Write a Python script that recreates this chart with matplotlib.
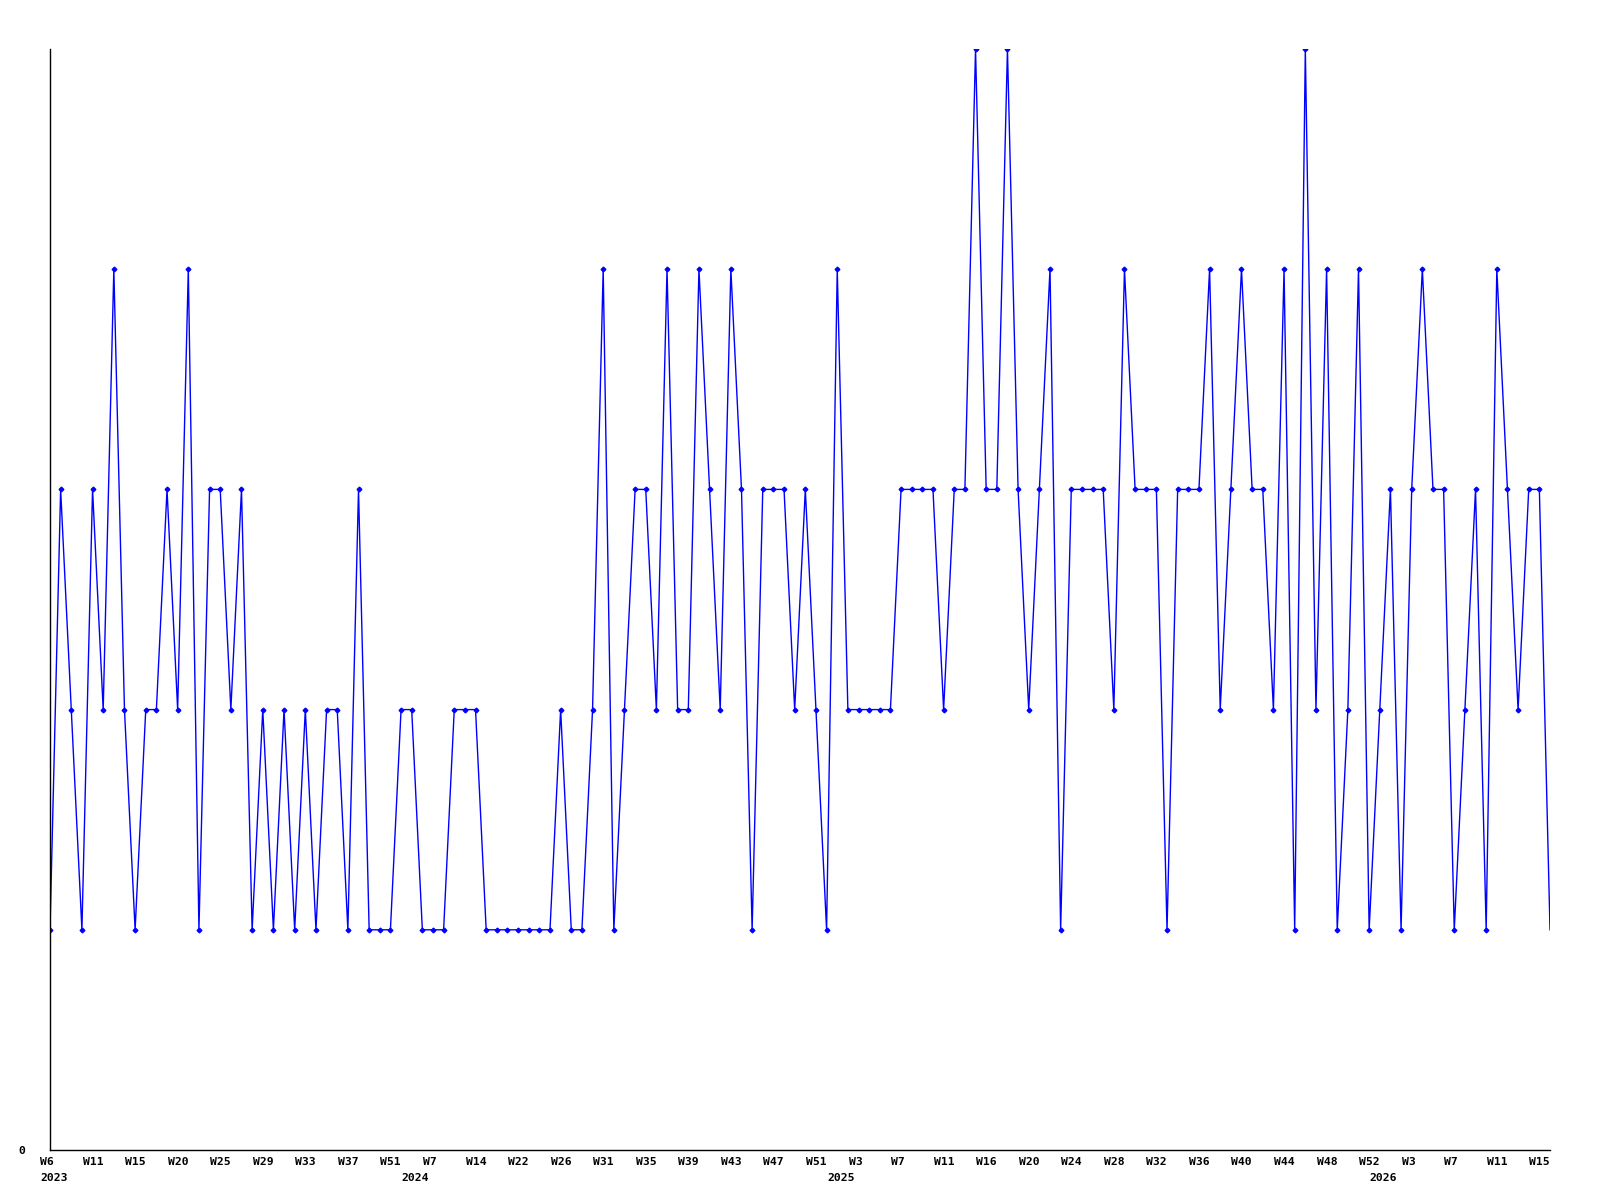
import matplotlib
matplotlib.use("Agg")
import matplotlib.pyplot as plt
import matplotlib.transforms as mtrans

values = [1, 3, 2, 1, 3, 2, 4, 2, 1, 2, 2, 3, 2, 4, 1, 3, 3, 2, 3, 1, 2, 1, 2, 1, 2, 1,
          2, 2, 1, 3, 1, 1, 1, 2, 2, 1, 1, 1, 2, 2, 2, 1, 1, 1, 1, 1, 1, 1, 2, 1, 1,
          2, 4, 1, 2, 3, 3, 2, 4, 2, 2, 4, 3, 2, 4, 3, 1, 3, 3, 3, 2, 3, 2, 1, 4,
          2, 2, 2, 2, 2, 3, 3, 3, 3, 2, 3, 3, 5, 3, 3, 5, 3, 2, 3, 4, 1, 3, 3, 3,
          3, 2, 4, 3, 3, 3, 1, 3, 3, 3, 4, 2, 3, 4, 3, 3, 2, 4, 1, 5, 2, 4, 1, 2, 4,
          1, 2, 3, 1, 3, 4, 3, 3, 1, 2, 3, 1, 4, 3, 2, 3, 3, 1]

week_labels = ["W6", "W11", "W15", "W20", "W25", "W29", "W33", "W37", "W51", "W7",
               "W14", "W22", "W26", "W31", "W35", "W39", "W43", "W47", "W51", "W3",
               "W7", "W11", "W16", "W20", "W24", "W28", "W32", "W36", "W40", "W44",
               "W48", "W52", "W3", "W7", "W11", "W15"]
label_step = 4
year_labels = ["2023", "2024", "2025", "2026"]
year_starts = [0, 34, 74, 125]

fig = plt.figure(figsize=(16, 12), dpi=100)
ax = fig.add_axes([50 / 1600, 1 - 1150 / 1200, 1500 / 1600, 1101 / 1200])

x = list(range(len(values)))
ax.plot(x, values, color="#0000ff", linewidth=1.0, marker="D", markersize=2.4,
        markevery=slice(0, len(values) - 1))
ax.set_xlim(0, len(values) - 1)
ax.set_ylim(0, max(values))

for s in ["top", "right"]:
    ax.spines[s].set_visible(False)
for s in ["left", "bottom"]:
    ax.spines[s].set_color("black")
    ax.spines[s].set_linewidth(1.0)
ax.set_xticks([])
ax.set_yticks([])

font = dict(family="DejaVu Sans Mono", fontweight="bold", fontsize=8.2, color="black")
blend = mtrans.blended_transform_factory(ax.transData, fig.transFigure)
off = mtrans.offset_copy(blend, fig=fig, x=-10, y=0, units="dots")

for k, lab in enumerate(week_labels):
    fig.text(k * label_step, 1 - 1165 / 1200, lab, transform=off, ha="left",
             va="baseline", **font)
for lab, st in zip(year_labels, year_starts):
    fig.text(st, 1 - 1181 / 1200, lab, transform=off, ha="left", va="baseline", **font)

fig.text(22 / 1600, 1 - 1154 / 1200, "0", ha="center", va="baseline", **font)

fig.savefig("out.png", dpi=100)
